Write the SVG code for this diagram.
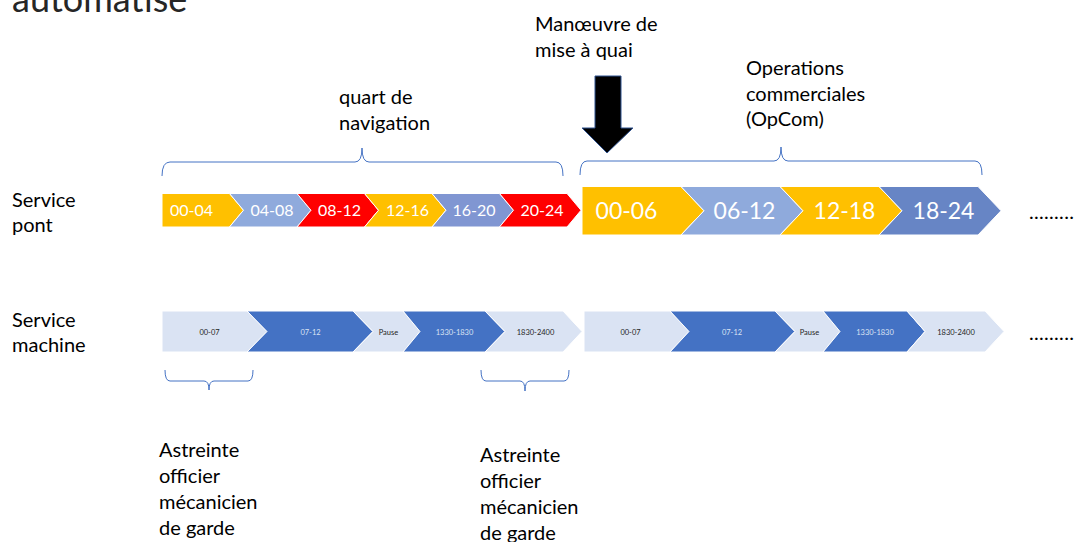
<svg xmlns="http://www.w3.org/2000/svg" width="1077" height="542" viewBox="0 0 1077 542">
  <style>
    .lbl { font-family: Lato, "Liberation Sans", sans-serif; font-size: 20px; fill: #000; }
    .title { font-family: Lato, "Liberation Sans", sans-serif; font-size: 36px; fill: #262626; }
    .sm { font-family: Lato, "Liberation Sans", sans-serif; font-size: 16px; fill: #fff; text-anchor: middle; }
    .big { font-family: Lato, "Liberation Sans", sans-serif; font-size: 23px; fill: #fff; text-anchor: middle; }
    .tiny { font-family: Lato, "Liberation Sans", sans-serif; font-size: 7.5px; text-anchor: middle; }
    .tiny.dk { fill: #262626; }
    .tiny.lt { fill: #DAE3F3; }
    .chev { stroke: #fff; stroke-width: 1; }
    .yel { fill: #FFC000; }
    .lb { fill: #8FAADC; }
    .mb { fill: #8096D2; }
    .db { fill: #6785C5; }
    .red { fill: #FF0000; }
    .pale { fill: #DAE3F3; }
    .blue { fill: #4472C4; }
    .brace { fill: none; stroke: #4472C4; stroke-width: 1; }
  </style>

  <!-- heading (partly above the page edge) -->
  <text class="title" x="12" y="12">automatise</text>

  <!-- row labels -->
  <g id="label-pont">
    <text class="lbl" x="12" y="207">Service</text>
    <text class="lbl" x="12" y="232">pont</text>
  </g>
  <g id="label-machine">
    <text class="lbl" x="12" y="327">Service</text>
    <text class="lbl" x="12" y="352">machine</text>
  </g>

  <!-- annotations -->
  <g id="label-quart">
    <text class="lbl" x="339" y="104">quart de</text>
    <text class="lbl" x="339" y="130">navigation</text>
  </g>
  <g id="label-manoeuvre">
    <text class="lbl" x="535" y="31">Manœuvre de</text>
    <text class="lbl" x="535" y="57">mise à quai</text>
  </g>
  <g id="label-opcom">
    <text class="lbl" x="746" y="75">Operations</text>
    <text class="lbl" x="746" y="101">commerciales</text>
    <text class="lbl" x="746" y="126">(OpCom)</text>
  </g>
  <g id="label-astreinte-1">
    <text class="lbl" x="159" y="457">Astreinte</text>
    <text class="lbl" x="159" y="483">officier</text>
    <text class="lbl" x="159" y="509">mécanicien</text>
    <text class="lbl" x="159" y="535">de garde</text>
  </g>
  <g id="label-astreinte-2">
    <text class="lbl" x="480" y="462">Astreinte</text>
    <text class="lbl" x="480" y="488">officier</text>
    <text class="lbl" x="480" y="514">mécanicien</text>
    <text class="lbl" x="480" y="540">de garde</text>
  </g>

  <!-- docking arrow -->
  <g id="arrow-docking">
    <polygon points="595,76 621,76 621,128 633,128 607,153 582,128 595,128" fill="#000" stroke="#2F528F" stroke-width="1"/>
  </g>

  <!-- braces -->
  <g id="connectors">
    <path class="brace" d="M162,176 Q162,162 170,162 H355 Q362,162 362,148 Q362,162 369,162 H556 Q563,162 563,176"/>
    <path class="brace" d="M580,175 Q580,161 587,161 H774 Q781,161 781,147 Q781,161 788,161 H975 Q982,161 982,175"/>
    <path class="brace" d="M165,370 Q165,381 170,381 H204 Q209,381 209,390 Q209,381 214,381 H248 Q253,381 253,370"/>
    <path class="brace" d="M481,370 Q481,381 486,381 H520 Q525,381 525,391 Q525,381 530,381 H564 Q569,381 569,370"/>
  </g>

  <!-- bridge watch: navigation quarters -->
  <g id="pont-nav">
    <g id="nav-00-04">
      <path class="chev yel" d="M162,193.5 H229.5 L243.5,210.25 L229.5,227 H162 Z"/>
      <text class="sm" x="191.5" y="215.5">00-04</text>
    </g>
    <g id="nav-04-08">
      <path class="chev lb" d="M229.5,193.5 H297 L311,210.25 L297,227 H229.5 L243.5,210.25 Z"/>
      <text class="sm" x="272" y="215.5">04-08</text>
    </g>
    <g id="nav-08-12">
      <path class="chev red" d="M297,193.5 H364.5 L378.5,210.25 L364.5,227 H297 L311,210.25 Z"/>
      <text class="sm" x="339.5" y="215.5">08-12</text>
    </g>
    <g id="nav-12-16">
      <path class="chev yel" d="M364.5,193.5 H432 L446,210.25 L432,227 H364.5 L378.5,210.25 Z"/>
      <text class="sm" x="407.5" y="215.5">12-16</text>
    </g>
    <g id="nav-16-20">
      <path class="chev mb" d="M432,193.5 H499.5 L513.5,210.25 L499.5,227 H432 L446,210.25 Z"/>
      <text class="sm" x="474" y="215.5">16-20</text>
    </g>
    <g id="nav-20-24">
      <path class="chev red" d="M499.5,193.5 H567 L581,210.25 L567,227 H499.5 L513.5,210.25 Z"/>
      <text class="sm" x="542" y="215.5">20-24</text>
    </g>
  </g>

  <!-- bridge watch: commercial operations -->
  <g id="pont-opcom">
    <g id="op-00-06">
      <path class="chev yel" d="M582,186.5 H681 L704,210.75 L681,235 H582 Z"/>
      <text class="big" x="626.5" y="218.5">00-06</text>
    </g>
    <g id="op-06-12">
      <path class="chev lb" d="M681,186.5 H780 L803,210.75 L780,235 H681 L704,210.75 Z"/>
      <text class="big" x="744.5" y="218.5">06-12</text>
    </g>
    <g id="op-12-18">
      <path class="chev yel" d="M780,186.5 H879 L902,210.75 L879,235 H780 L803,210.75 Z"/>
      <text class="big" x="844.5" y="218.5">12-18</text>
    </g>
    <g id="op-18-24">
      <path class="chev db" d="M879,186.5 H978 L1001,210.75 L978,235 H879 L902,210.75 Z"/>
      <text class="big" x="943.5" y="218.5">18-24</text>
    </g>
  </g>

  <!-- engine room: day 1 -->
  <g id="machine-1">
    <g id="m1-00-07">
      <path class="chev pale" d="M162,311 H247 L267,331.5 L247,352 H162 Z"/>
      <text class="tiny dk" x="209.5" y="334.5">00-07</text>
    </g>
    <g id="m1-07-12">
      <path class="chev blue" d="M247,311 H353 L373,331.5 L353,352 H247 L267,331.5 Z"/>
      <text class="tiny lt" x="310.5" y="334.5">07-12</text>
    </g>
    <g id="m1-pause">
      <path class="chev pale" d="M353,311 H403 L420,331.5 L403,352 H353 L373,331.5 Z"/>
      <text class="tiny dk" x="388.5" y="334.5">Pause</text>
    </g>
    <g id="m1-1330-1830">
      <path class="chev blue" d="M403,311 H485 L505,331.5 L485,352 H403 L420,331.5 Z"/>
      <text class="tiny lt" x="454.5" y="334.5">1330-1830</text>
    </g>
    <g id="m1-1830-2400">
      <path class="chev pale" d="M485,311 H563 L582,331.5 L563,352 H485 L505,331.5 Z"/>
      <text class="tiny dk" x="535.5" y="334.5">1830-2400</text>
    </g>
  </g>

  <!-- engine room: day 2 -->
  <g id="machine-2">
    <g id="m2-00-07">
      <path class="chev pale" d="M584,311 H670 L689,331.5 L670,352 H584 Z"/>
      <text class="tiny dk" x="630.5" y="334.5">00-07</text>
    </g>
    <g id="m2-07-12">
      <path class="chev blue" d="M670,311 H775 L795,331.5 L775,352 H670 L689,331.5 Z"/>
      <text class="tiny lt" x="732" y="334.5">07-12</text>
    </g>
    <g id="m2-pause">
      <path class="chev pale" d="M775,311 H823 L840,331.5 L823,352 H775 L795,331.5 Z"/>
      <text class="tiny dk" x="809.5" y="334.5">Pause</text>
    </g>
    <g id="m2-1330-1830">
      <path class="chev blue" d="M823,311 H907 L925,331.5 L907,352 H823 L840,331.5 Z"/>
      <text class="tiny lt" x="875" y="334.5">1330-1830</text>
    </g>
    <g id="m2-1830-2400">
      <path class="chev pale" d="M907,311 H985 L1004,331.5 L985,352 H907 L925,331.5 Z"/>
      <text class="tiny dk" x="956" y="334.5">1830-2400</text>
    </g>
  </g>

  <!-- continuation marks -->
  <text class="lbl" x="1029" y="219" letter-spacing="0.3">.........</text>
  <text class="lbl" x="1029" y="340" letter-spacing="0.3">.........</text>
</svg>
